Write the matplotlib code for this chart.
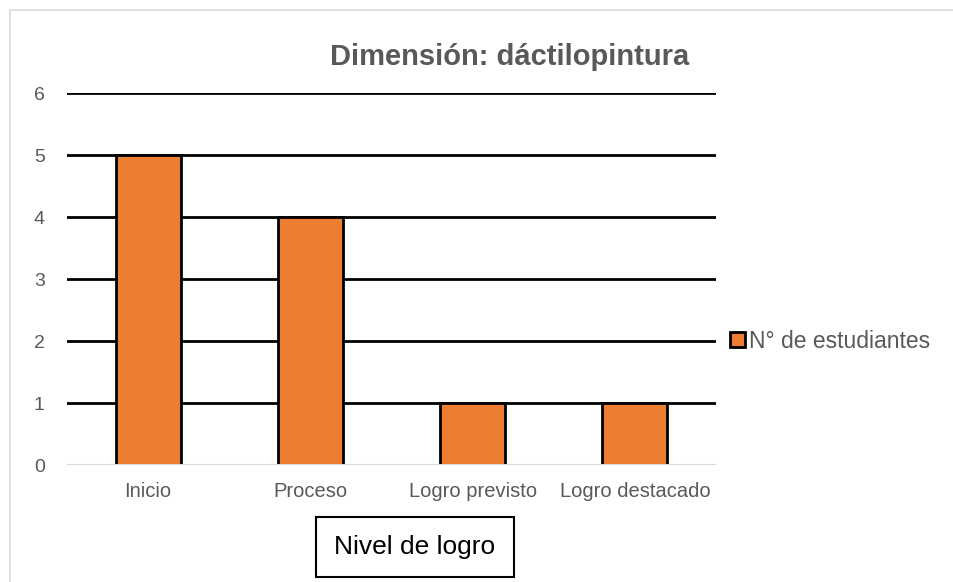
import matplotlib.pyplot as plt
from matplotlib.patches import Rectangle

categorias = ["Inicio", "Proceso", "Logro previsto", "Logro destacado"]
estudiantes = [5, 4, 1, 1]
yticks = [0, 1, 2, 3, 4, 5, 6]

plt.rcParams['font.family'] = ['Liberation Sans', 'DejaVu Sans']

fig = plt.figure(figsize=(9.54, 5.82), dpi=100)
ax = fig.add_axes([67/954, 1-465/582, (716-67)/954, (465-93)/582])

# borde del grafico
fig.patches.append(Rectangle((10/954, -0.01), 1.0, 1-10/582+0.01, transform=fig.transFigure,
                             fill=False, edgecolor="#d9d9d9", linewidth=1.2))

x = range(len(categorias))
ax.bar(x, estudiantes, width=0.4, color="#ED7D31", edgecolor="black", linewidth=2,
       label="N° de estudiantes", zorder=3)

ax.set_xlim(-0.5, len(categorias) - 0.5)
ax.set_ylim(0, 6)
ax.set_yticks(yticks)
for v in yticks[1:]:
    ax.axhline(v, color="black", linewidth=2, zorder=2)
ax.axhline(0, color="#d9d9d9", linewidth=1.5, zorder=4)

ax.set_xticks(list(x))
ax.set_xticklabels(categorias, fontsize=14.5, color="#595959")
ax.tick_params(axis="y", labelsize=14, labelcolor="#595959", length=0, pad=16)
ax.tick_params(axis="x", length=0, pad=12)
for s in ax.spines.values():
    s.set_visible(False)

fig.text(510/954, 1-57/582, "Dimensión: dáctilopintura", fontsize=21, fontweight="bold",
         color="#595959", ha="center", va="center")

fig.text(415/954, 1-547/582, "Nivel de logro", fontsize=19, color="black",
         ha="center", va="center",
         bbox=dict(boxstyle="square,pad=0.7", facecolor="white", edgecolor="black", linewidth=1.5))

ax.legend(loc="center left", bbox_to_anchor=(1.0, 0.333), frameon=False, fontsize=16.5,
          handlelength=0.65, handleheight=0.65, handletextpad=0.2, borderaxespad=0.2,
          labelcolor="#595959")

fig.savefig("out.png", dpi=100)
